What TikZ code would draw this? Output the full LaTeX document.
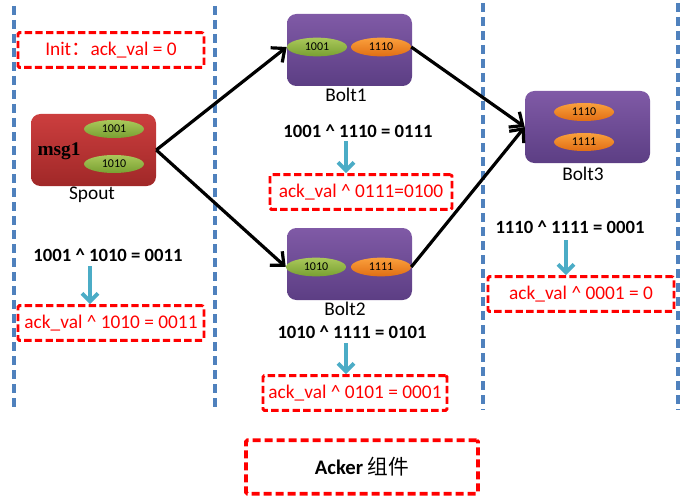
\documentclass[tikz,border=0pt]{standalone}
\usepackage{fontspec}
\setmainfont{Carlito}
\newfontfamily\cjk{Noto Sans CJK SC}
\newfontfamily\tnr{Liberation Serif}
\usetikzlibrary{arrows.meta,shapes.geometric}
\definecolor{lineblue}{HTML}{4F81BD}
\definecolor{downblue}{HTML}{4BACC6}
\definecolor{boxred}{HTML}{FF0000}
\begin{document}
\begin{tikzpicture}[x=0.75pt,y=-0.75pt]
        \tikzset{sep/.style = {lineblue, line width=3pt, dash pattern=on 7pt off 3.5pt}}
        \tikzset{ackbox/.style = {draw=boxred, line width=2.2pt, dash pattern=on 5.5pt off 2.5pt, rounded corners=1pt, minimum height=26pt, text=boxred, font=\fontsize{14.5}{16}\selectfont}}
        \tikzset{xorline/.style = {font=\bfseries\fontsize{14}{16}\selectfont}}
        \tikzset{down/.style = {downblue, line width=3pt, -{Straight Barb[length=6pt,width=12pt]}}}
        \tikzset{flow/.style = {line width=2.4pt, -{Straight Barb[length=8pt,width=14pt]}}}
        \tikzset{spoutbox/.style = {rounded corners=7pt, minimum width=93.75pt, minimum height=54pt, top color={rgb,255:red,204;green,62;blue,62}, bottom color={rgb,255:red,160;green,40;blue,40}}}
        \tikzset{boltbox/.style = {rounded corners=7pt, minimum width=93.75pt, minimum height=54pt, top color={rgb,255:red,128;green,90;blue,166}, bottom color={rgb,255:red,92;green,62;blue,132}}}
        \tikzset{grn/.style = {ellipse, minimum width=45pt, minimum height=14pt, inner sep=0pt, top color={rgb,255:red,170;green,200;blue,90}, bottom color={rgb,255:red,120;green,160;blue,50}, font=\fontsize{9}{10}\selectfont}}
        \tikzset{org/.style = {ellipse, minimum width=45pt, minimum height=14pt, inner sep=0pt, top color={rgb,255:red,250;green,160;blue,60}, bottom color={rgb,255:red,225;green,110;blue,20}, font=\fontsize{9}{10}\selectfont}}
        \tikzset{tag/.style = {font=\fontsize{14.5}{16}\selectfont}}

        \useasboundingbox (0,0) rectangle (700,503);

        % separators
        \draw[sep] (14,6) -- (14,410);
        \draw[sep] (215,6) -- (215,410);
        \draw[sep] (483,3) -- (483,410);
        \draw[sep] (678,3) -- (678,410);

        % spout
        \node[ackbox, minimum width=139.5pt] (init) at (111,50) {Init{\cjk ：}ack\_val = 0};
        \node[spoutbox] (spout) at (93.5,150) {};
        \node[font=\tnr\bfseries\fontsize{14.5}{17}\selectfont] (msg) at (59,151) {msg1};
        \node[grn, minimum height=13.5pt] (sa) at (114,129) {1001};
        \node[grn, minimum height=13.5pt] (sb) at (114,164) {1010};
        \node[tag] (spoutlbl) at (92,195) {Spout};

        % bolts
        \node[boltbox] (bolt1) at (349.5,50) {};
        \node[grn] (b1a) at (317,47) {1001};
        \node[org] (b1b) at (381,47) {1110};
        \node[tag] (bolt1lbl) at (346,95) {Bolt1};

        \node[boltbox] (bolt2) at (349.5,264) {};
        \node[grn] (b2a) at (316,267) {1010};
        \node[org] (b2b) at (381,267) {1111};
        \node[tag] (bolt2lbl) at (345,309) {Bolt2};

        \node[boltbox] (bolt3) at (587.5,127) {};
        \node[org, minimum height=13.5pt] (b3a) at (584,112) {1110};
        \node[org, minimum height=13.5pt] (b3b) at (584,142) {1111};
        \node[tag] (bolt3lbl) at (583,174) {Bolt3};

        % tuple flow
        \draw[flow] (spout.east) -- (b1a.west);
        \draw[flow] (spout.east) -- (b2a.west);
        \draw[flow] (b1b.east) -- (bolt3.west);
        \draw[flow] (b2b.east) -- (bolt3.west);

        % xor steps
        \node[xorline] (x0) at (108,255) {1001 \^{} 1010 = 0011};
        \node[ackbox, minimum width=139.5pt] (r0) at (111,323) {ack\_val \^{} 1010 = 0011};
        \node[xorline] (x1) at (358,131) {1001 \^{} 1110 = 0111};
        \node[ackbox, minimum width=136.5pt] (r1) at (361,192) {ack\_val \^{} 0111=0100};
        \node[xorline] (x2) at (352,332) {1010 \^{} 1111 = 0101};
        \node[ackbox, minimum width=138pt] (r2) at (355,393) {ack\_val \^{} 0101 = 0001};
        \node[xorline] (x3) at (570,227) {1110 \^{} 1111 = 0001};
        \node[ackbox, minimum width=139.5pt] (r3) at (581,294) {ack\_val \^{} 0001 = 0};

        \coordinate (d0) at (90,266);
        \coordinate (d1) at (346,141);
        \coordinate (d2) at (346,343);
        \coordinate (d3) at (566,240);
        \draw[down] (d0) -- (d0 |- r0.north);
        \draw[down] (d1) -- (d1 |- r1.north);
        \draw[down] (d2) -- (d2 |- r2.north);
        \draw[down] (d3) -- (d3 |- r3.north);

        % acker
        \node[ackbox, line width=2.8pt, dash pattern=on 6pt off 3pt, minimum width=174pt, minimum height=40pt, text=black, font=\fontsize{15.5}{17}\selectfont] (acker) at (362,467) {\textbf{Acker} {\cjk 组件}};
\end{tikzpicture}
\end{document}
